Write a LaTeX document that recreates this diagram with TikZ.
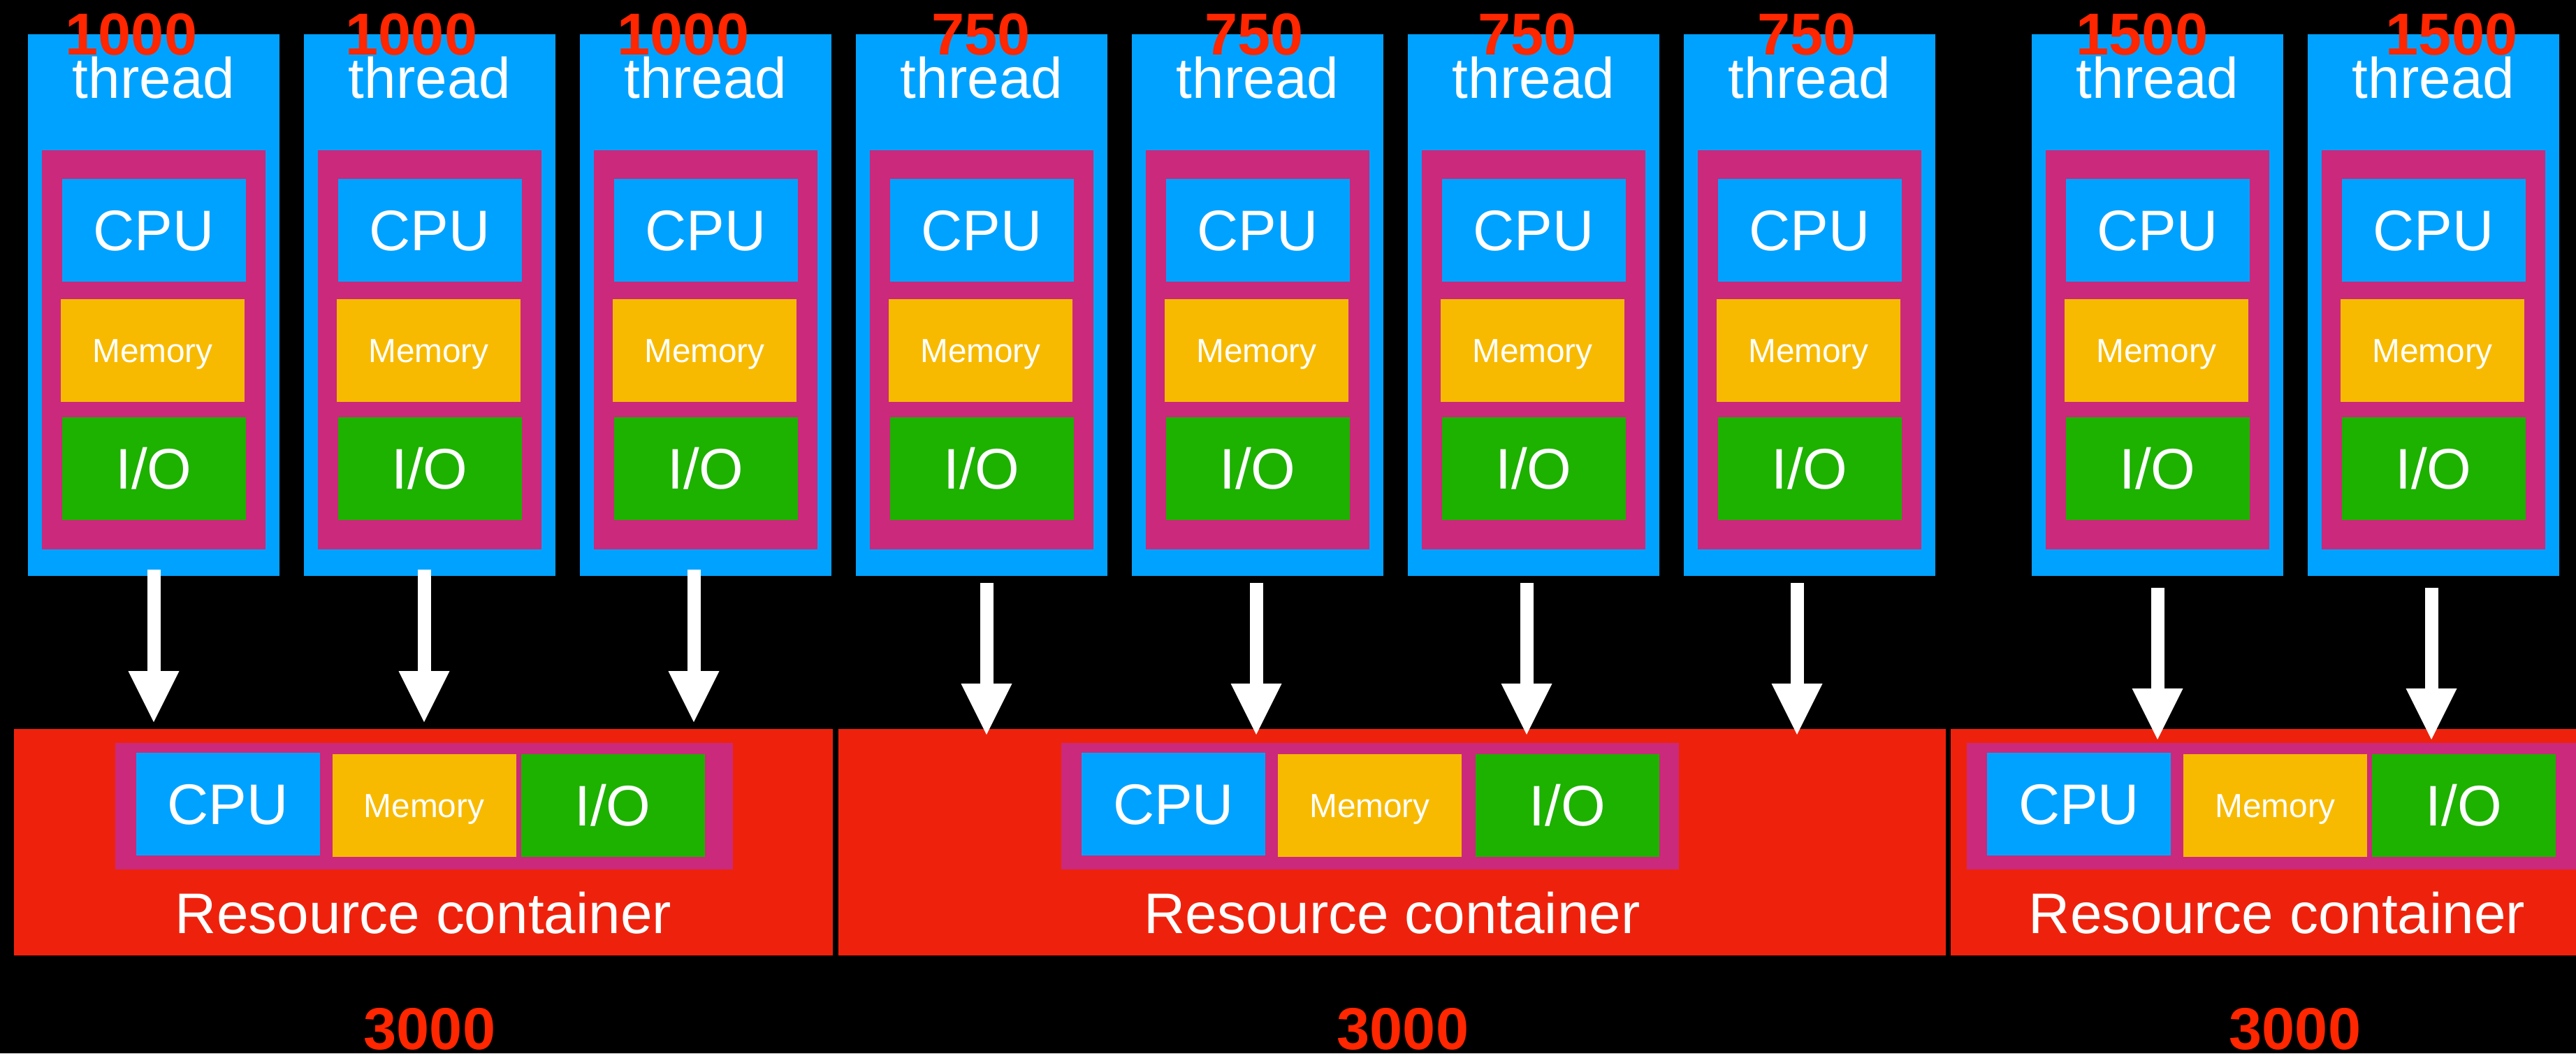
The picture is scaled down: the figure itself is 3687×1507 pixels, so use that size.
\documentclass[tikz,border=0pt]{standalone}
\usepackage{fontspec}
\setmainfont{Liberation Sans}
\usetikzlibrary{arrows.meta,calc}

\definecolor{tblue}{HTML}{00A2FF}
\definecolor{tmag}{HTML}{CB297B}
\definecolor{tyel}{HTML}{F8BA00}
\definecolor{tgrn}{HTML}{1DB100}
\definecolor{cred}{HTML}{EE220C}
\definecolor{nred}{HTML}{FF2600}

\newcommand{\bigfont}{\fontsize{23.3}{28}\selectfont}
\newcommand{\memfont}{\fontsize{13.6}{16}\selectfont}
\newcommand{\numfont}{\fontsize{24.1}{29}\selectfont\bfseries}

\begin{document}
\begin{tikzpicture}[x=0.1mm,y=-0.1mm,
  box/.style={inner sep=0pt,outer sep=0pt},
  thread/.style={box,fill=tblue,minimum width=36mm,minimum height=77.5mm},
  panel/.style={box,fill=tmag,minimum width=32mm,minimum height=57.1mm},
  tile/.style={box,text=white,font=\bigfont,minimum width=26.3mm,minimum height=14.7mm,
    text height=5.87mm,text depth=0pt},
  cpu/.style={tile,fill=tblue},
  mem/.style={tile,fill=tyel,font=\memfont,text height=3.43mm},
  io/.style={tile,fill=tgrn},
  rc/.style={box,fill=cred,minimum height=32.4mm},
  rpanel/.style={box,fill=tmag,minimum width=88.4mm,minimum height=18.1mm},
  lbl/.style={box,text=white,font=\bigfont,anchor=base},
  num/.style={box,text=nred,font=\numfont,anchor=base},
  flow/.style={white,line width=1.9mm,-{Triangle[width=7.3mm,length=7.3mm,line width=0pt]}}]

\useasboundingbox (0,0) rectangle (3687,1507);
\clip (0,0) rectangle (3687,1507);
\fill[black] (0,0) rectangle (3687,1507);

\foreach \i/\cx/\nx/\num in {1/220/188/1000,2/615/589/1000,3/1010/978/1000,
  4/1405/1404/750,5/1800/1795/750,6/2195/2186/750,7/2590/2586/750,
  8/3088/3066/1500,9/3483/3509/1500}{
\node[thread] (t\i) at (\cx,436.5) {};
\node[panel] (p\i) at (\cx,500.5) {};
\node[cpu] (cpu\i) at (\cx,329.5) {CPU};
\node[mem] (mem\i) at (\cx-1.5,501) {Memory};
\node[io] (io\i) at (\cx,670.5) {I/O};
\node[lbl] (tl\i) at (\cx,140) {thread};
\node[num] (n\i) at (\nx,78) {\num};
}

\foreach \j/\rx/\rw/\px/\ix/\sx in {1/606/117.2mm/607/270/615,
  2/1992.5/158.5mm/1960.5/283/2008,3/3259/93.4mm/3256.5/270/3285}{
\node[rc,minimum width=\rw] (rc\j) at (\rx,1205) {};
\node[rpanel] (rp\j) at (\px,1153.5) {};
\node[cpu] (rcpu\j) at (\px-281,1150) {CPU};
\node[mem] (rmem\j) at (\px,1152.5) {Memory};
\node[io] (rio\j) at (\px+\ix,1152.5) {I/O};
\node[lbl] (rl\j) at (\rx,1335) {Resource container};
\node[num] (s\j) at (\sx,1501) {3000};
}

\foreach \i/\j/\dx/\ds/\de in {1/1/0/-9/-10,2/1/-8/-9/-10,3/1/-17/-9/-10,
  4/2/7/10/8,5/2/-2/10/8,6/2/-10/10/8,7/2/-18/10/8,8/3/0/17/15,9/3/-3/17/15}
\draw[flow] ($(t\i.south)+(\dx,\ds)$) -- ($(t\i.south |- rc\j.north)+(\dx,\de)$);
\end{tikzpicture}
\end{document}
